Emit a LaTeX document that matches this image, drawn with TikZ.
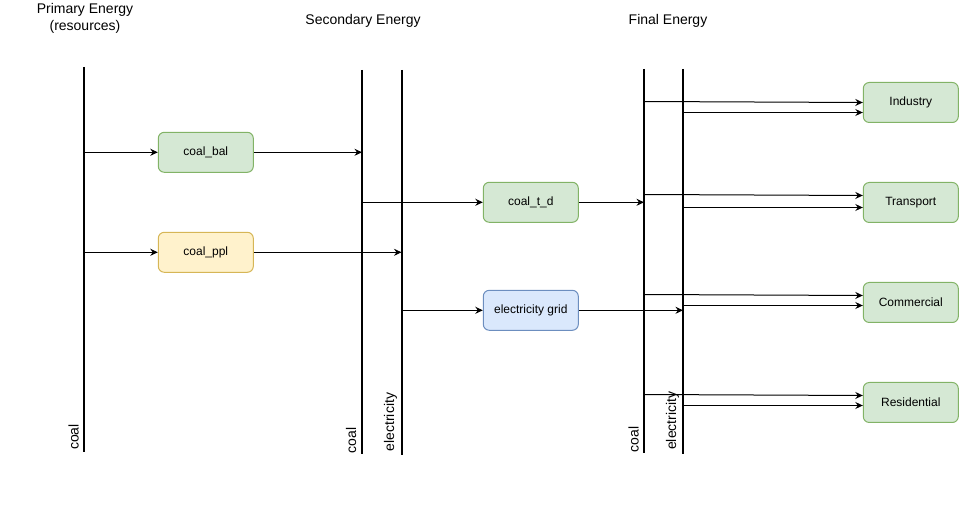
\documentclass[tikz,border=0pt]{standalone}
\usepackage{fontspec}
\setmainfont{Liberation Sans}
\usepackage{tikz}
\usetikzlibrary{positioning}
\usetikzlibrary{arrows.meta,calc}
\usepackage{xcolor}
\definecolor{greenfill}{HTML}{D5E8D4}
\definecolor{greenline}{HTML}{82B366}
\definecolor{yellowfill}{HTML}{FFF2CC}
\definecolor{yellowline}{HTML}{D6B656}
\definecolor{bluefill}{HTML}{DAE8FC}
\definecolor{blueline}{HTML}{6C8EBF}

\begin{document}
\begin{tikzpicture}
[x=1pt, y=-1pt,
>={Stealth[length=7.5pt, width=7pt, inset=2.5pt]},
% The bus style is used to draw the energy carrier lines
bus/.style={line width=2pt, black},
% The carrier style is used to write the name of each carrier
carrier/.style={rotate=90, anchor=west, inner sep=0pt, font=\fontsize{14}{17}\selectfont},
% The level style is used to write the name of each energy level
level/.style={align=center, inner sep=0pt, font=\fontsize{14}{17}\selectfont},
% The tech style is used to draw the technologies
tech/.style={rectangle, draw, rounded corners=6pt, line width=1pt, minimum width=95pt, minimum height=40pt, inner sep=0pt, font=\fontsize{12}{14}\selectfont},
flow/.style={->, line width=1pt}
]
\useasboundingbox (0,0) rectangle (959,526);

% Draw energy levels
\node [level] (primary) at (85,18) {Primary Energy\\(resources)};
\node [level] (secondary) at (363,21) {Secondary Energy};
\node [level] (final) at (668,21) {Final Energy};

% Draw carrier lines
\coordinate (pc) at (84,67);
\coordinate (pcend) at (84,452);
\coordinate (sc) at (362,70);
\coordinate (scend) at (362,454);
\coordinate (se) at (401.5,70);
\coordinate (seend) at (401.5,455);
\coordinate (fc) at (644,69);
\coordinate (fcend) at (644,453);
\coordinate (fe) at (683,69);
\coordinate (feend) at (683,454);
\draw[bus] (pc)--(pcend);
\draw[bus] (sc)--(scend);
\draw[bus] (se)--(seend);
\draw[bus] (fc)--(fcend);
\draw[bus] (fe)--(feend);

\node [carrier] (pcname) at (73.5,450) {coal};
\node [carrier] (scname) at (351,453.5) {coal};
\node [carrier] (sename) at (390.5,451.5) {electricity};
\node [carrier] (fcname) at (633.5,452.5) {coal};
\node [carrier] (fename) at (672.5,450) {electricity};

% Draw technologies
\node [tech, fill=greenfill, draw=greenline] (bal) at (205.8,152.3) {coal\_bal};
\node [tech, fill=yellowfill, draw=yellowline, below=59pt of bal] (ppl) {coal\_ppl};
\node [tech, fill=greenfill, draw=greenline] (td) at (530.8,202.3) {coal\_t\_d};
\node [tech, fill=bluefill, draw=blueline, below=67pt of td] (grid) {electricity grid};

% Draw demands
\node [tech, fill=greenfill, draw=greenline] (industry) at (910.8,102.5) {Industry};
\node [tech, fill=greenfill, draw=greenline, below=59pt of industry] (transport) {Transport};
\node [tech, fill=greenfill, draw=greenline, below=59pt of transport] (commercial) {Commercial};
\node [tech, fill=greenfill, draw=greenline, below=59pt of commercial] (residential) {Residential};

% Draw flows
\draw[flow] (pc |- bal.west)--(bal.west);
\draw[flow] (bal.east)--(sc |- bal.east);
\draw[flow] (pc |- ppl.west)--(ppl.west);
\draw[flow] (ppl.east)--(se |- ppl.east);
\draw[flow] (sc |- td.west)--(td.west);
\draw[flow] (td.east)--(fc |- td.east);
\draw[flow] (se |- grid.west)--(grid.west);
\draw[flow] (grid.east)--(fe |- grid.east);

\draw[flow] ($(fc |- industry.west)+(0,-1)$)--(industry.west);
\draw[flow] ($(fe |- industry.west)+(0,10)$)--($(industry.west)+(0,10)$);
\draw[flow] ($(fc |- transport.west)+(0,-8)$)--($(transport.west)+(0,-7)$);
\draw[flow] ($(fe |- transport.west)+(0,5)$)--($(transport.west)+(0,5)$);
\draw[flow] ($(fc |- commercial.west)+(0,-8)$)--($(commercial.west)+(0,-7)$);
\draw[flow] ($(fe |- commercial.west)+(0,3)$)--($(commercial.west)+(0,3)$);
\draw[flow] ($(fc |- residential.west)+(0,-8)$)--($(residential.west)+(0,-7)$);
\draw[flow] ($(fe |- residential.west)+(0,3)$)--($(residential.west)+(0,3)$);
\end{tikzpicture}
\end{document}
